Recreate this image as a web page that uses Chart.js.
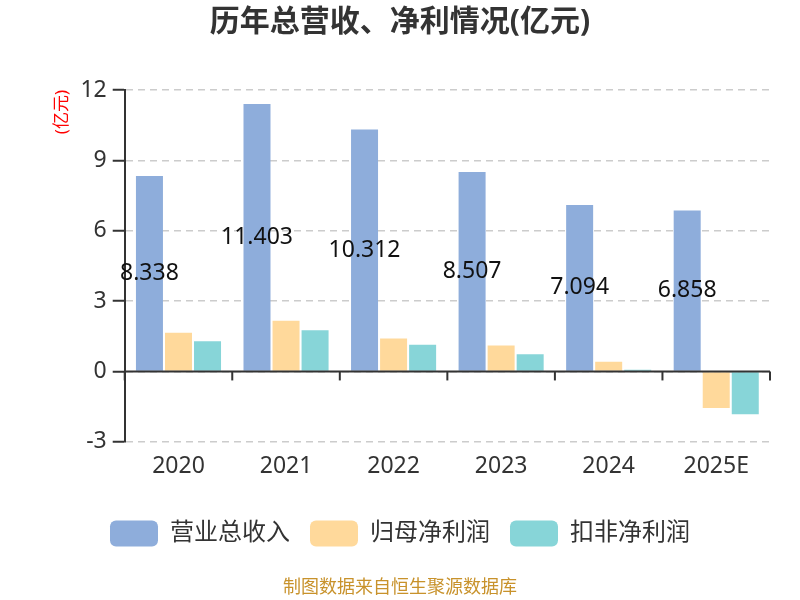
<!DOCTYPE html>
<html>
<head>
<meta charset="utf-8">
<script src="https://cdn.jsdelivr.net/npm/chart.js@4.4.1/dist/chart.umd.min.js"></script>
<style>
  html, body { margin: 0; padding: 0; background: #fff; }
  #wrap { width: 800px; height: 600px; }
</style>
</head>
<body>
<div id="wrap"><canvas id="mainChart"></canvas></div>
<script>
// Data
let years = ["2020", "2021", "2022", "2023", "2024", "2025E"];
let revenue = [8.338, 11.403, 10.312, 8.507, 7.094, 6.858];
let netProfit = [1.65, 2.16, 1.40, 1.11, 0.41, -1.56];
let deductedProfit = [1.29, 1.76, 1.14, 0.73, 0.07, -1.82];
let yTicks = [-3, 0, 3, 6, 9, 12];

const fontFamily = "'Noto Sans', 'Noto Sans CJK SC', sans-serif";

// Zero line with tick marks between categories, like the reference
const zeroAxis = {
    id: "zeroAxis",
    afterDatasetsDraw(chart) {
        const ctx = chart.ctx;
        const x = chart.scales.x;
        const y0 = chart.scales.y.getPixelForValue(0);
        const area = chart.chartArea;
        ctx.save();
        ctx.strokeStyle = "#333";
        ctx.lineWidth = 2;
        ctx.beginPath();
        ctx.moveTo(area.left, y0);
        ctx.lineTo(area.right, y0);
        ctx.stroke();
        let half = (x.getPixelForValue(1) - x.getPixelForValue(0)) / 2;
        for (let i = 0; i <= years.length; i++) {
            let bx = x.getPixelForValue(i) - half;
            ctx.beginPath();
            ctx.moveTo(bx, y0);
            ctx.lineTo(bx, y0 + 9);
            ctx.stroke();
        }
        ctx.restore();
    }
};

// Value labels in the middle of the revenue bars
const revenueLabels = {
    id: "revenueLabels",
    afterDatasetsDraw(chart) {
        const ctx = chart.ctx;
        const meta = chart.getDatasetMeta(0);
        ctx.save();
        ctx.font = "23px " + fontFamily;
        ctx.fillStyle = "#111";
        ctx.textAlign = "center";
        ctx.textBaseline = "middle";
        meta.data.forEach(function (bar, i) {
            ctx.fillText(revenue[i].toFixed(3), bar.x, (bar.y + bar.base) / 2);
        });
        ctx.restore();
    }
};

new Chart(document.getElementById("mainChart"), {
    type: "bar",
    data: {
        labels: years,
        datasets: [
            {
                label: "营业总收入",
                data: revenue,
                backgroundColor: "#8eaddb"
            },
            {
                label: "归母净利润",
                data: netProfit,
                backgroundColor: "#ffd99b"
            },
            {
                label: "扣非净利润",
                data: deductedProfit,
                backgroundColor: "#87d5d8"
            }
        ]
    },
    options: {
        responsive: true,
        maintainAspectRatio: false,
        animation: false,
        categoryPercentage: 0.81,
        barPercentage: 0.93,
        layout: {
            padding: { left: 30, right: 30, top: 4, bottom: 1 }
        },
        plugins: {
            title: {
                display: true,
                text: "历年总营收、净利情况(亿元)",
                color: "#333",
                font: { family: fontFamily, size: 30, weight: "bold" },
                padding: { top: 0, bottom: 50 }
            },
            subtitle: {
                display: true,
                position: "bottom",
                text: "制图数据来自恒生聚源数据库",
                color: "#c8922b",
                font: { family: fontFamily, size: 18 },
                padding: { top: 21, bottom: 0 }
            },
            legend: {
                position: "bottom",
                labels: {
                    boxWidth: 48,
                    boxHeight: 26,
                    useBorderRadius: true,
                    borderRadius: 6,
                    padding: 20,
                    color: "#333",
                    font: { family: fontFamily, size: 24 }
                }
            },
            tooltip: { enabled: false }
        },
        scales: {
            x: {
                grid: { display: false, drawTicks: false },
                border: { display: false },
                afterFit(scale) {
                    scale.height += 9;
                },
                ticks: {
                    color: "#333",
                    padding: 11,
                    font: { family: fontFamily, size: 23 }
                }
            },
            y: {
                min: -3,
                max: 12,
                afterBuildTicks(axis) {
                    axis.ticks = yTicks.map(v => ({ value: v }));
                },
                title: {
                    display: true,
                    text: "(亿元)",
                    align: "end",
                    color: "#ff0000",
                    font: { family: fontFamily, size: 17 },
                    padding: { top: 22, bottom: 2 }
                },
                grid: {
                    color: "#cccccc",
                    lineWidth: 1.5,
                    tickColor: "#333",
                    tickBorderDash: [],
                    tickLength: 12,
                    tickWidth: 2
                },
                border: {
                    display: true,
                    color: "#333",
                    width: 2,
                    dash: [7, 5]
                },
                ticks: {
                    color: "#333",
                    padding: 6,
                    font: { family: fontFamily, size: 23 }
                }
            }
        }
    },
    plugins: [zeroAxis, revenueLabels]
});
</script>
</body>
</html>
